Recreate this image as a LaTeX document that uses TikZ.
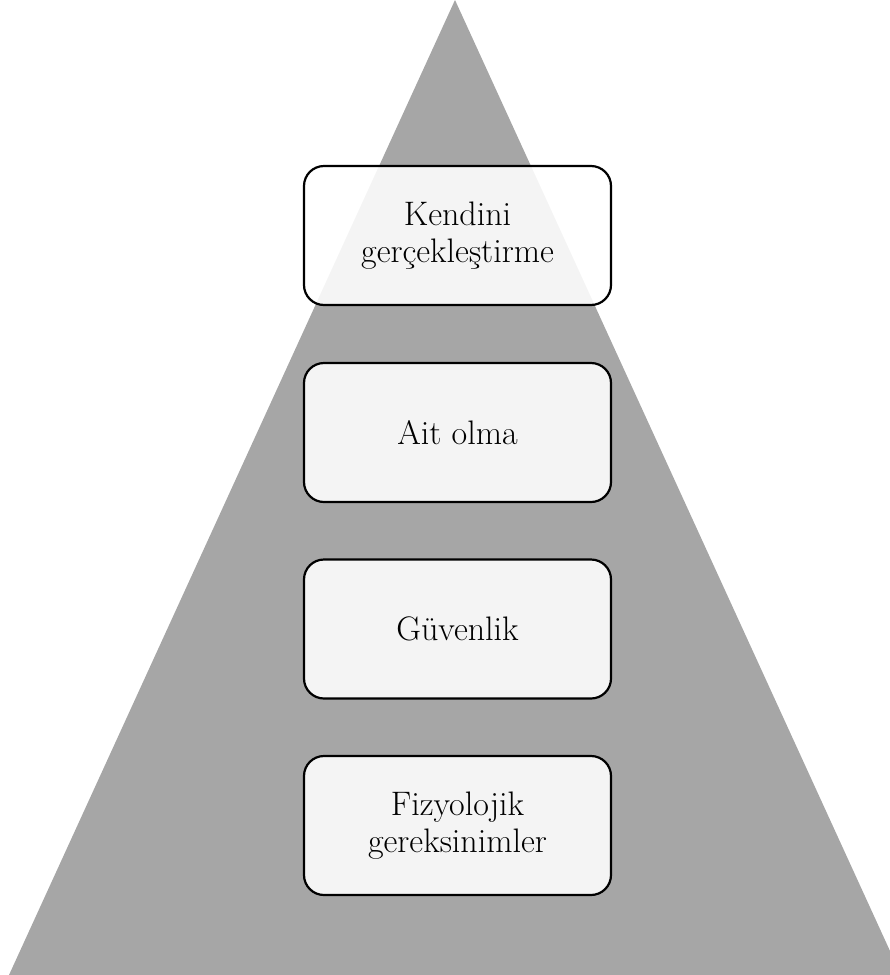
\documentclass[tikz,border=0pt]{standalone}
\usepackage{fontspec}
\begin{document}
\begin{tikzpicture}[x=1pt,y=-1pt,
  levelbox/.style={draw=black, line width=2.2pt, rounded corners=20pt,
    fill=white, fill opacity=0.88, text opacity=1,
    minimum width=307pt, minimum height=139pt, inner sep=0pt,
    align=center, font=\fontsize{34}{37}\selectfont}]
\useasboundingbox (0,0) rectangle (890,975);
\clip (0,0) rectangle (890,975);
\fill[fill={rgb,255:red,166;green,166;blue,166}] (455,0) -- (901,975) -- (9,975) -- cycle;
\node[levelbox] (n1) at (457.5,235.5) {Kendini\\gerçekleştirme};
\node[levelbox] (n2) at (457.5,432.5) {Ait olma};
\node[levelbox] (n3) at (457.5,629) {Güvenlik};
\node[levelbox] (n4) at (457.5,825.5) {Fizyolojik\\gereksinimler};
\end{tikzpicture}
\end{document}
